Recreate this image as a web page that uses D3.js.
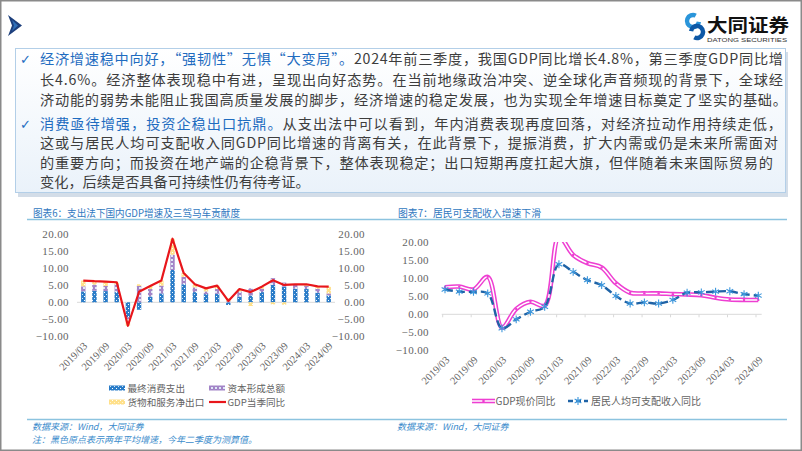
<!DOCTYPE html>
<html><head><meta charset="utf-8">
<script src="https://cdn.jsdelivr.net/npm/d3@7"></script>
<style>body{margin:0;background:#fff}svg{display:block}</style>
</head><body>
<svg id="s" width="802" height="451"></svg>
<script>
// ---------- DATA ----------
const quarters = ["2019/03","2019/06","2019/09","2019/12","2020/03","2020/06","2020/09","2020/12",
  "2021/03","2021/06","2021/09","2021/12","2022/03","2022/06","2022/09","2022/12",
  "2023/03","2023/06","2023/09","2023/12","2024/03","2024/06","2024/09"];
const tickLabels = ["2019/03","2019/09","2020/03","2020/09","2021/03","2021/09","2022/03","2022/09","2023/03","2023/09","2024/03","2024/09"];
const consumption = [3.2,3.4,3.3,3.0,-4.4,-2.2,1.7,2.6,9.5,5.3,3.0,2.4,2.5,-0.8,1.7,2.0,3.0,5.1,4.6,4.0,3.9,2.8,2.0];
const capital     = [1.5,1.8,1.5,2.3,-1.0,4.8,2.2,2.3,4.5,2.2,1.4,0.8,1.4,0.3,1.5,2.1,1.0,2.0,1.2,1.1,0.9,1.2,0.6];
const netExports  = [1.7,1.0,1.2,0.6,-1.5,0.5,0.9,1.5,4.7,1.1,0.9,0.9,1.0,0.9,0.7,-1.1,0.6,-0.6,-0.7,0.2,0.5,0.7,2.0];
const gdpYoY      = [6.4,6.2,6.1,5.9,-6.9,3.1,4.8,6.4,18.7,8.6,5.3,4.1,4.9,0.4,3.9,3.0,4.6,6.5,5.1,5.3,5.3,4.7,4.6];
const gdpNominal  = [7.5,7.7,6.9,10.4,-3.7,1.5,3.5,2.4,21.5,16.5,14.2,13.0,8.6,6.0,5.8,5.8,5.6,5.5,5.3,4.6,4.1,4.0,4.0];
const incomeYoY   = [6.9,6.3,6.2,5.8,-3.9,-1.4,0.7,2.1,13.9,11.8,9.5,8.1,5.1,3.0,3.3,3.0,4.0,6.0,6.1,6.3,6.4,5.6,5.2];
const yTicks = [-10,-5,0,5,10,15,20];
const legend6 = ["最终消费支出","资本形成总额","货物和服务净出口","GDP当季同比"];
const legend7 = ["GDP现价同比","居民人均可支配收入同比"];

const svg = d3.select("#s");
const CJK = "'Noto Sans CJK SC','Noto Sans',sans-serif";
const SERIF = "'Liberation Serif','Noto Sans CJK SC',serif";

// ---------- defs ----------
const defs = svg.append("defs");
function pat(id, bg, fn){
  const p = defs.append("pattern").attr("id",id).attr("patternUnits","userSpaceOnUse").attr("width",4).attr("height",4);
  p.append("rect").attr("width",4).attr("height",4).attr("fill",bg);
  fn(p);
}
pat("pCons","#2a7cc8",p=>{p.append("rect").attr("x",0).attr("y",0).attr("width",1).attr("height",1).attr("fill","#fff");
  p.append("rect").attr("x",2).attr("y",2).attr("width",1).attr("height",1).attr("fill","#cfe3f5");});
pat("pCap","#dfe9f6",p=>{p.append("circle").attr("cx",2).attr("cy",2).attr("r",1.3).attr("fill","none").attr("stroke","#7030a0").attr("stroke-width",0.9);});
pat("pNet","#ffe08a",p=>{p.append("rect").attr("x",0).attr("y",0).attr("width",1).attr("height",1).attr("fill","#fff");
  p.append("rect").attr("x",2).attr("y",2).attr("width",1).attr("height",1).attr("fill","#fff6d5");});
const grad = defs.append("linearGradient").attr("id","boxg").attr("x1",0).attr("y1",0).attr("x2",0).attr("y2",1);
grad.append("stop").attr("offset","0").attr("stop-color","#ffffff");
grad.append("stop").attr("offset","1").attr("stop-color","#eaf2fa");
defs.append("clipPath").attr("id","clip7").append("rect").attr("x",430).attr("y",242).attr("width",340).attr("height",120);

// ---------- frame & header ----------
svg.append("rect").attr("x",0.75).attr("y",0.75).attr("width",800.5).attr("height",449.5).attr("fill","#fff").attr("stroke","#8a8a8a").attr("stroke-width",1.5);
svg.append("path").attr("d","M8,15 L22,25.5 L8,36 L12,25.5 Z").attr("fill","#1d3f7c");
svg.append("path").attr("d","M12,20 L18,25.5 L12,31 L14,25.5 Z").attr("fill","#2f6fb8");
// logo
const arc = d3.arc();
svg.append("path").attr("transform","translate(693,21)").attr("fill","#2a95da")
  .attr("d",arc({innerRadius:3.8,outerRadius:8.2,startAngle:Math.PI*0.55,endAngle:Math.PI*2.15}));
svg.append("path").attr("transform","translate(697,32)").attr("fill","#0d58a6")
  .attr("d",arc({innerRadius:3.8,outerRadius:8.2,startAngle:-Math.PI*0.45,endAngle:Math.PI*1.15}));
svg.append("text").attr("x",707).attr("y",31.5).attr("font-family",CJK).attr("font-weight",700).attr("font-size",18)
  .attr("textLength",82).attr("lengthAdjust","spacingAndGlyphs").attr("fill","#111").text("大同证券");
svg.append("text").attr("x",707).attr("y",42).attr("font-family","'Liberation Sans',sans-serif").attr("font-size",5.5)
  .attr("textLength",80).attr("lengthAdjust","spacingAndGlyphs").attr("fill","#333").text("DATONG SECURITIES");

// ---------- text box ----------
svg.append("rect").attr("x",18).attr("y",52).attr("width",770).attr("height",145).attr("fill","#d3dde8");
svg.append("rect").attr("x",15.5).attr("y",48.5).attr("width",770).attr("height",144).attr("fill","url(#boxg)").attr("stroke","#b3cfe8").attr("stroke-width",1);
const BLUE="#1f6cc0", GRAY="#3d3d3d";
const lines = [
  {y:59, w:743, parts:[["经济增速稳中向好，“强韧性”无惧“大变局”。",BLUE],["2024年前三季度，我国GDP同比增长4.8%，第三季度GDP同比增",GRAY]], check:true},
  {y:79.5, w:743, parts:[["长4.6%。经济整体表现稳中有进，呈现出向好态势。在当前地缘政治冲突、逆全球化声音频现的背景下，全球经",GRAY]]},
  {y:100, w:747, parts:[["济动能的弱势未能阻止我国高质量发展的脚步，经济增速的稳定发展，也为实现全年增速目标奠定了坚实的基础。",GRAY]]},
  {y:123.5, w:742, parts:[["消费亟待增强，投资企稳出口抗鼎。",BLUE],["从支出法中可以看到，年内消费表现再度回落，对经济拉动作用持续走低，",GRAY]], check:true},
  {y:143, w:738, parts:[["这或与居民人均可支配收入同GDP同比增速的背离有关，在此背景下，提振消费，扩大内需或仍是未来所需面对",GRAY]]},
  {y:162.5, w:733, parts:[["的重要方向；而投资在地产端的企稳背景下，整体表现稳定；出口短期再度扛起大旗，但伴随着未来国际贸易的",GRAY]]},
  {y:182, w:null, parts:[["变化，后续是否具备可持续性仍有待考证。",GRAY]]}
];
lines.forEach(l=>{
  if(l.check) svg.append("text").attr("x",20).attr("y",l.y+5).attr("font-family","'DejaVu Sans',sans-serif").attr("font-size",13).attr("fill",BLUE).text("✓");
  const t = svg.append("text").attr("x",40).attr("y",l.y+5).attr("font-family",CJK).attr("font-size",14.2);
  if(l.w) t.attr("textLength",l.w).attr("lengthAdjust","spacing");
  l.parts.forEach(p=>t.append("tspan").attr("fill",p[1]).text(p[0]));
});

// ---------- chart titles & rules ----------
const TBLUE="#2f78bf";
svg.append("text").attr("x",33).attr("y",217).attr("font-family",CJK).attr("font-size",10).attr("fill",TBLUE)
  .attr("textLength",207).attr("lengthAdjust","spacingAndGlyphs").text("图表6：支出法下国内GDP增速及三驾马车贡献度");
svg.append("text").attr("x",398).attr("y",217).attr("font-family",CJK).attr("font-size",10).attr("fill",TBLUE)
  .attr("textLength",143).attr("lengthAdjust","spacingAndGlyphs").text("图表7：居民可支配收入增速下滑");
[219.5,419.5].forEach(y=>svg.append("line").attr("x1",27).attr("x2",787).attr("y1",y).attr("y2",y).attr("stroke","#8cc3df").attr("stroke-width",1.6));
const SBLUE="#3b8ccc";
svg.append("text").attr("x",32).attr("y",430).attr("font-family",CJK).attr("font-size",9).attr("font-style","italic").attr("fill",SBLUE).text("数据来源：Wind，大同证券");
svg.append("text").attr("x",32).attr("y",443).attr("font-family",CJK).attr("font-size",9).attr("font-style","italic").attr("fill",SBLUE).text("注：黑色原点表示两年平均增速，今年二季度为测算值。");
svg.append("text").attr("x",397).attr("y",430).attr("font-family",CJK).attr("font-size",9).attr("font-style","italic").attr("fill",SBLUE).text("数据来源：Wind，大同证券");

// ---------- Chart 6 ----------
const x6 = d3.scaleBand().domain(quarters).range([77.7,334.3]).padding(0);
const y6 = d3.scaleLinear().domain([-10,20]).range([336.3,234.3]);
const g6 = svg.append("g");
g6.append("line").attr("x1",77).attr("x2",335).attr("y1",y6(0)).attr("y2",y6(0)).attr("stroke","#d9d9d9");
const rows = quarters.map((q,i)=>({q, cons:consumption[i], cap:capital[i], net:netExports[i]}));
const stack = d3.stack().keys(["cons","cap","net"]).offset(d3.stackOffsetDiverging)(rows);
const fills = {cons:"url(#pCons)",cap:"url(#pCap)",net:"url(#pNet)"};
const bw = 4.4;
stack.forEach(s=>{
  g6.append("g").selectAll("rect").data(s).join("rect")
    .attr("x",d=>x6(d.data.q)+x6.bandwidth()/2-bw/2).attr("width",bw)
    .attr("y",d=>y6(Math.max(d[0],d[1]))).attr("height",d=>Math.abs(y6(d[0])-y6(d[1])))
    .attr("fill",fills[s.key]);
});
g6.append("path").datum(gdpYoY).attr("fill","none").attr("stroke","#e8161b").attr("stroke-width",2.2).attr("stroke-linejoin","round")
  .attr("d",d3.line().x((d,i)=>x6(quarters[i])+x6.bandwidth()/2).y(d=>y6(d)));
function styleAxis(g){ g.select(".domain").remove(); g.selectAll("text").attr("font-family",SERIF).attr("font-size",11).attr("letter-spacing",0.4).attr("fill","#636363"); }
g6.append("g").attr("transform","translate(69,0)").call(d3.axisLeft(y6).tickValues(yTicks).tickFormat(d3.format(".2f")).tickSize(0).tickPadding(0)).call(styleAxis);
g6.append("g").attr("transform","translate(365,0)").call(d3.axisLeft(y6).tickValues(yTicks).tickFormat(d3.format(".2f")).tickSize(0).tickPadding(0)).call(styleAxis);
const xa6 = g6.append("g").attr("transform","translate(2,344)").call(d3.axisBottom(x6).tickValues(tickLabels).tickSize(0).tickFormat(d=>d));
xa6.select(".domain").remove();
xa6.selectAll("text").attr("font-family",SERIF).attr("font-size",10.5).attr("fill","#636363")
  .attr("y",0).attr("dy","0.35em").attr("text-anchor","end").attr("transform","rotate(-45)");
// legend 6
const L6 = [{x:109,y:388,t:legend6[0],f:"url(#pCons)"},{x:209,y:388,t:legend6[1],f:"url(#pCap)"},{x:109,y:402,t:legend6[2],f:"url(#pNet)"},{x:209,y:402,t:legend6[3],line:"#e8161b"}];
L6.forEach(l=>{
  if(l.line) svg.append("line").attr("x1",l.x).attr("x2",l.x+17).attr("y1",l.y).attr("y2",l.y).attr("stroke",l.line).attr("stroke-width",2.2);
  else svg.append("rect").attr("x",l.x).attr("y",l.y-2.5).attr("width",16).attr("height",5).attr("fill",l.f);
  svg.append("text").attr("x",l.x+18.5).attr("y",l.y+3.5).attr("font-family",CJK).attr("font-size",9.6).attr("fill","#636363").text(l.t);
});

// ---------- Chart 7 ----------
const x7 = d3.scalePoint().domain(quarters).range([445,758.3]);
const y7 = d3.scaleLinear().domain([-10,20]).range([350.3,242.3]);
const g7 = svg.append("g");
g7.append("line").attr("x1",441.7).attr("x2",761.7).attr("y1",y7(0)).attr("y2",y7(0)).attr("stroke","#d9d9d9");
g7.selectAll("line.tk").data(tickLabels).join("line").attr("class","tk")
  .attr("x1",d=>x7(d)-2.3).attr("x2",d=>x7(d)-2.3).attr("y1",y7(0)).attr("y2",y7(0)+3).attr("stroke","#d9d9d9");
g7.append("g").attr("transform","translate(429,0)").call(d3.axisLeft(y7).tickValues(yTicks).tickFormat(d3.format(".2f")).tickSize(0).tickPadding(0)).call(styleAxis);
const xa7 = g7.append("g").attr("transform","translate(2,358)").call(d3.axisBottom(x7).tickValues(tickLabels).tickSize(0).tickFormat(d=>d));
xa7.select(".domain").remove();
xa7.selectAll("text").attr("font-family",SERIF).attr("font-size",10.5).attr("fill","#636363")
  .attr("y",0).attr("dy","0.35em").attr("text-anchor","end").attr("transform","rotate(-45)");
const lc = d3.line().x((d,i)=>x7(quarters[i])).y(d=>y7(d)).curve(d3.curveCatmullRom.alpha(0.5));
const cg = g7.append("g").attr("clip-path","url(#clip7)");
const PINK="#ee3fd2";
cg.append("path").datum(gdpNominal).attr("fill","none").attr("stroke",PINK).attr("stroke-width",4.6).attr("d",lc);
cg.append("path").datum(gdpNominal).attr("fill","none").attr("stroke","#fff").attr("stroke-width",1.5).attr("d",lc);
cg.selectAll("circle").data(gdpNominal).join("circle").attr("cx",(d,i)=>x7(quarters[i])).attr("cy",d=>y7(d)).attr("r",1.2).attr("fill",PINK);
cg.append("path").datum(incomeYoY).attr("fill","none").attr("stroke","#1f63a6").attr("stroke-width",2.4).attr("stroke-dasharray","8,4").attr("d",lc);
const sym = d3.symbol().type(d3.symbolAsterisk).size(42);
cg.selectAll("path.mk").data(incomeYoY).join("path").attr("class","mk")
  .attr("transform",(d,i)=>`translate(${x7(quarters[i])},${y7(d)})`).attr("d",sym()).attr("fill","none").attr("stroke","#3d97dc").attr("stroke-width",1.1);
// legend 7
svg.append("line").attr("x1",472).attr("x2",495).attr("y1",401).attr("y2",401).attr("stroke",PINK).attr("stroke-width",4.6);
svg.append("line").attr("x1",472).attr("x2",495).attr("y1",401).attr("y2",401).attr("stroke","#fff").attr("stroke-width",1.5);
svg.append("circle").attr("cx",483.5).attr("cy",401).attr("r",1.3).attr("fill",PINK);
svg.append("text").attr("x",495.5).attr("y",404.5).attr("font-family",CJK).attr("font-size",10).attr("fill","#636363").text(legend7[0]);
svg.append("line").attr("x1",568).attr("x2",588).attr("y1",401).attr("y2",401).attr("stroke","#1f63a6").attr("stroke-width",2.4).attr("stroke-dasharray","5,3");
svg.append("path").attr("transform","translate(578,401)").attr("d",sym()).attr("fill","none").attr("stroke","#3d97dc").attr("stroke-width",1.1);
svg.append("text").attr("x",591).attr("y",404.5).attr("font-family",CJK).attr("font-size",10).attr("fill","#636363").text(legend7[1]);
</script>
</body></html>
